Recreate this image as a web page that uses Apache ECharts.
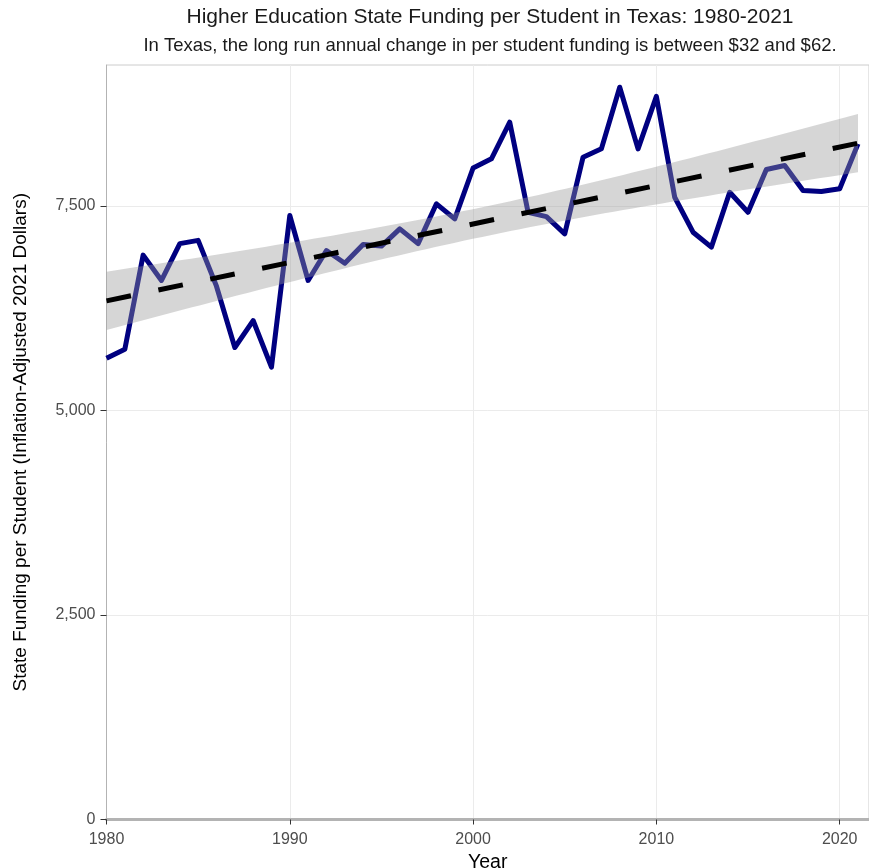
<!DOCTYPE html>
<html><head><meta charset="utf-8">
<script src="https://cdn.jsdelivr.net/npm/echarts@6/dist/echarts.min.js"></script>
<style>html,body{margin:0;padding:0;background:#fff}#c{width:869px;height:868px}</style>
</head><body><div id="c"></div>
<script>
const years = [1980,1981,1982,1983,1984,1985,1986,1987,1988,1989,1990,1991,1992,1993,1994,1995,1996,1997,1998,1999,2000,2001,2002,2003,2004,2005,2006,2007,2008,2009,2010,2011,2012,2013,2014,2015,2016,2017,2018,2019,2020,2021];
const funding = [5640,5750,6900,6590,7040,7080,6520,5770,6100,5530,7384,6590,6956,6800,7030,7010,7221,7040,7527,7343,7965,8077,8525,7424,7370,7160,8097,8199,8952,8199,8840,7607,7180,6997,7668,7424,7946,7995,7689,7677,7710,8260];
const xTicks = [1980,1990,2000,2010,2020];
const yTicks = [0,2500,5000,7500];
const titleText = 'Higher Education State Funding per Student in Texas: 1980-2021';
const subtitleText = 'In Texas, the long run annual change in per student funding is between $32 and $62.';
const xName = 'Year';
const yName = 'State Funding per Student (Inflation-Adjusted 2021 Dollars)';

// linear fit (OLS) with 95% confidence band, from the data
const n = years.length;
const xbar = years.reduce((a,b)=>a+b,0)/n;
const ybar = funding.reduce((a,b)=>a+b,0)/n;
let sxx = 0, sxy = 0;
for (let i=0;i<n;i++){ sxx += (years[i]-xbar)**2; sxy += (years[i]-xbar)*(funding[i]-ybar); }
const slope = sxy/sxx, intercept = ybar - slope*xbar;
let sse = 0;
for (let i=0;i<n;i++){ sse += (funding[i]-(intercept+slope*years[i]))**2; }
const sRes = Math.sqrt(sse/(n-2));
const tCrit = 2.021;
const fitAt = x => intercept + slope*x;
const halfAt = x => tCrit*sRes*Math.sqrt(1/n + (x-xbar)**2/sxx);
const bandX = [];
for (let i=0;i<=80;i++) bandX.push(years[0] + (years[n-1]-years[0])*i/80);

const FONT = '"Liberation Sans", Arial, sans-serif';
const chart = echarts.init(document.getElementById('c'), null, {renderer:'canvas'});
chart.setOption({
  animation:false,
  backgroundColor:'#ffffff',
  textStyle:{fontFamily:FONT},
  graphic:[
    {type:'text', x:490, y:17, style:{text:titleText, font:'21px '+FONT, fill:'#1a1a1a', align:'center', verticalAlign:'middle', textAlign:'center', textVerticalAlign:'middle'}},
    {type:'text', x:490, y:46, style:{text:subtitleText, font:'18.5px '+FONT, fill:'#1a1a1a', align:'center', verticalAlign:'middle', textAlign:'center', textVerticalAlign:'middle'}}
  ],
  grid:{left:106.5, right:0, top:65, bottom:48.5, show:true, borderColor:'#cccccc', borderWidth:1, containLabel:false, outerBoundsMode:'none'},
  xAxis:{
    type:'value', min:1980, max:2021.6, interval:10,
    name:xName, nameLocation:'middle', nameGap:31.5,
    nameTextStyle:{fontSize:19.5, color:'#000', fontFamily:FONT},
    axisLine:{show:true, onZero:false, lineStyle:{color:'#b3b3b3', width:3}},
    axisTick:{show:true, length:5, customValues:xTicks, lineStyle:{color:'#333', width:1}},
    axisLabel:{color:'#4d4d4d', fontSize:16, margin:12.5, customValues:xTicks, formatter:v=>String(v), fontFamily:FONT},
    splitLine:{show:true, lineStyle:{color:'#ebebeb', width:1}}
  },
  yAxis:{
    type:'value', min:0, max:9224, interval:2500,
    name:yName, nameLocation:'middle', nameGap:76,
    nameTextStyle:{fontSize:19, color:'#000', fontFamily:FONT},
    axisLine:{show:true, onZero:false, lineStyle:{color:'#b3b3b3', width:1}},
    axisTick:{show:true, length:6, customValues:yTicks, lineStyle:{color:'#333', width:1}},
    axisLabel:{color:'#4d4d4d', fontSize:16, margin:11, verticalAlign:'middle', customValues:yTicks, formatter:v=>v.toLocaleString('en-US'), fontFamily:FONT},
    splitLine:{show:true, lineStyle:{color:'#ebebeb', width:1}}
  },
  series:[
    {type:'line', z:2, data:years.map((y,i)=>[y,funding[i]]), showSymbol:false, symbol:'none',
     lineStyle:{color:'#000080', width:5, cap:'butt', join:'round'}},
    {type:'custom', z:3, silent:true, data:[[years[0], 0]],
     renderItem:(params, api)=>{
       const pts = [];
       bandX.forEach(x=>pts.push(api.coord([x, fitAt(x)+halfAt(x)])));
       for (let i=bandX.length-1;i>=0;i--) pts.push(api.coord([bandX[i], fitAt(bandX[i])-halfAt(bandX[i])]));
       return {type:'polygon', shape:{points:pts}, style:{fill:'rgba(153,153,153,0.4)'}};
     }},
    {type:'line', z:4, data:[[years[0], fitAt(years[0])],[years[n-1], fitAt(years[n-1])]], showSymbol:false, symbol:'none',
     lineStyle:{color:'#000', width:5, type:[25,28], cap:'butt'}}
  ]
});
</script></body></html>
